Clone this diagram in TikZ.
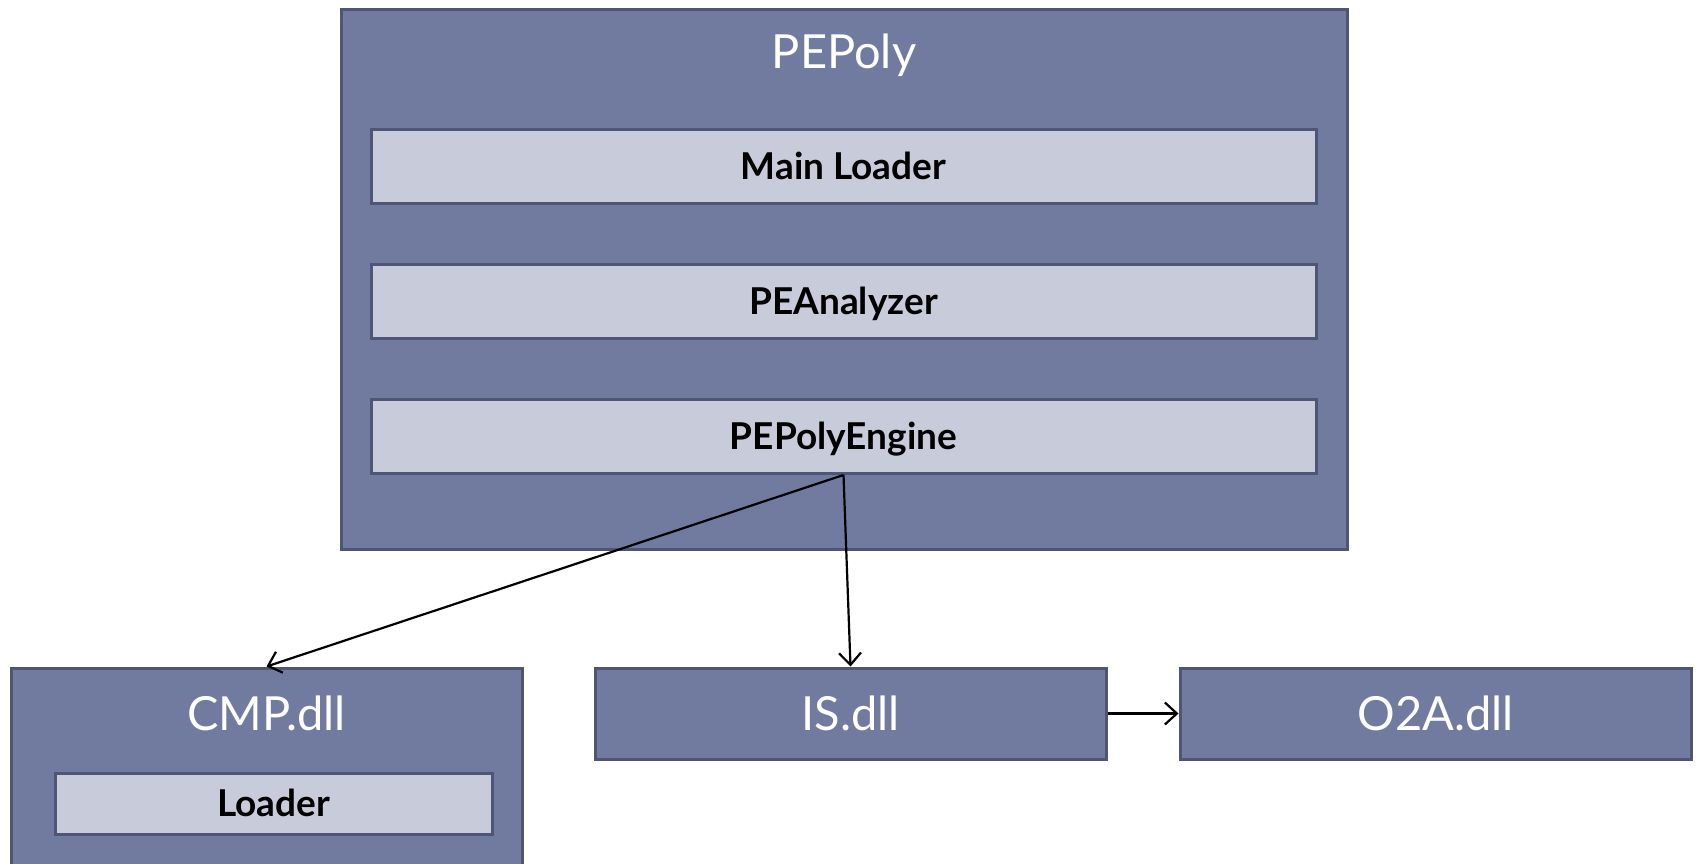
\documentclass[tikz,border=0pt]{standalone}
\usepackage{fontspec}
\setmainfont{Lato}
\usetikzlibrary{arrows.meta}
\definecolor{modfill}{HTML}{717BA0}
\definecolor{modline}{HTML}{4F5675}
\definecolor{partfill}{HTML}{C8CBDA}
\tikzset{
  module/.style={draw=modline, line width=3pt, fill=modfill, rectangle, inner sep=0pt,
    text=white, font=\fontsize{47}{49}\selectfont, text height=33.7pt, text depth=0pt},
  part/.style={draw=modline, line width=3pt, fill=partfill, rectangle, inner sep=0pt,
    text=black, font=\bfseries\fontsize{37}{39}\selectfont, text height=26.5pt, text depth=0pt},
  modtitle/.style={text=white, font=\fontsize{47}{49}\selectfont, inner sep=0pt,
    text height=33.7pt, text depth=0pt},
  link/.style={draw=black, line width=2.2pt,
    -{Straight Barb[length=12pt,width=22pt,line width=2.2pt]}}
}
\begin{document}
\begin{tikzpicture}[x=1pt,y=-1pt]
  \clip (0,0) rectangle (1696,863);
  \fill[white] (0,0) rectangle (1696,863);

  % main executable with its three internal parts
  \node[module, minimum width=1006, minimum height=540] (pepoly) at (844,279) {};
  \node[modtitle] (pepolyTitle) at (844,52) {PEPoly};
  \node[part, minimum width=945, minimum height=74] (mainloader) at (843.5,166) {Main Loader};
  \node[part, minimum width=945, minimum height=74] (analyzer) at (843.5,301.5) {PEAnalyzer};
  \node[part, minimum width=945, minimum height=74] (engine) at (843.5,436.5) {PEPolyEngine};

  % loaded libraries
  \node[module, minimum width=511, minimum height=212] (cmp) at (266.5,774) {};
  \node[modtitle] (cmpTitle) at (266.5,714) {CMP.dll};
  \node[part, minimum width=437, minimum height=61] (loader) at (273.5,803.5) {Loader};
  \node[module, minimum width=511, minimum height=91] (is) at (850.5,713.5) {IS.dll};
  \node[module, minimum width=511, minimum height=91] (o2a) at (1435.5,713.5) {O2A.dll};

  % calls between components
  \draw[link] (engine.south) -- (cmp.north);
  \draw[link] (engine.south) -- (is.north);
  \draw[link] (is.east) -- (o2a.west);
\end{tikzpicture}
\end{document}
